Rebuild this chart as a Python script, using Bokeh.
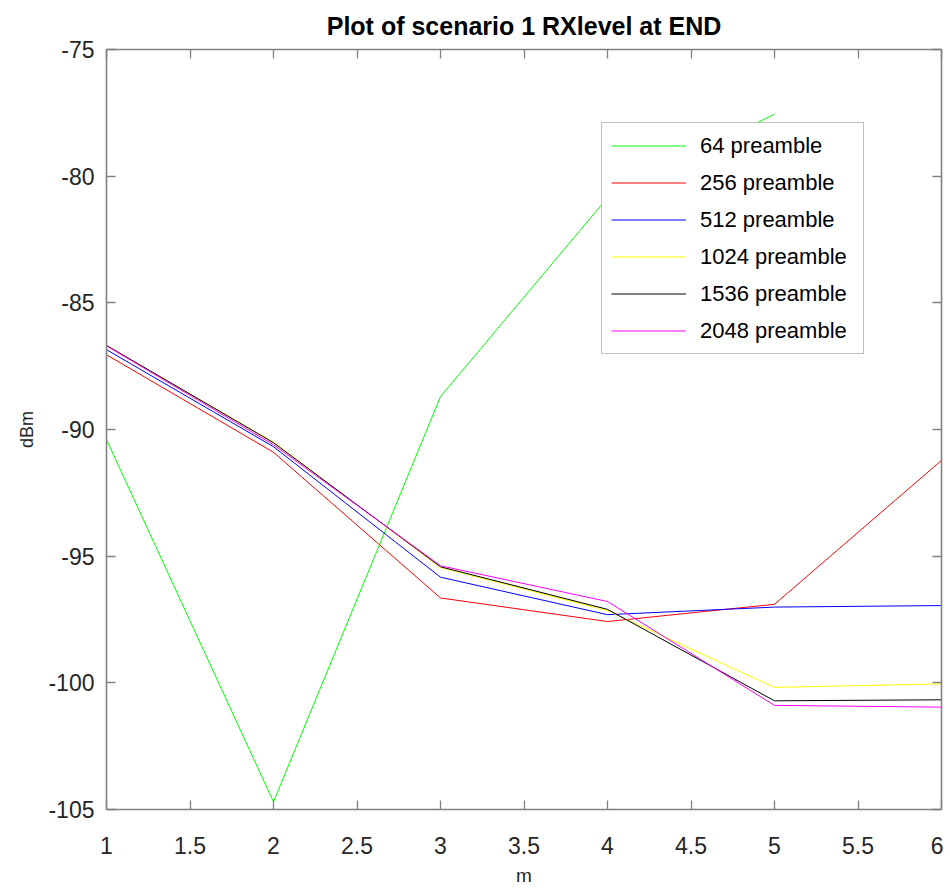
from bokeh.plotting import figure
from bokeh.models import Range1d, FixedTicker, LinearAxis, Legend, LegendItem
from bokeh.embed import file_html
from bokeh.resources import INLINE

x = [1, 2, 3, 4, 5, 6]
nan = float("nan")
y64 = [-90.4, -104.7, -88.7, -80.85, -77.55, nan]
y256 = [-87.05, -90.9, -96.65, -97.58, -96.9, -91.22]
y512 = [-86.85, -90.68, -95.83, -97.31, -97.01, -96.95]
y1024 = [-86.7, -90.5, -95.45, -97.15, -100.18, -100.04]
y1536 = [-86.68, -90.52, -95.42, -97.1, -100.71, -100.67]
y2048 = [-86.7, -90.6, -95.38, -96.79, -100.89, -100.96]

series = [
    ("64 preamble", y64, "#00ff00"),
    ("256 preamble", y256, "#ff0000"),
    ("512 preamble", y512, "#0000ff"),
    ("1024 preamble", y1024, "#ffff00"),
    ("1536 preamble", y1536, "#000000"),
    ("2048 preamble", y2048, "#ff00ff"),
]

x_ticks = [1, 1.5, 2, 2.5, 3, 3.5, 4, 4.5, 5, 5.5, 6]
y_ticks = [-105, -100, -95, -90, -85, -80, -75]

FONT = "Liberation Sans"
AXC = "#808080"
TXC = "#262626"

p = figure(
    frame_width=835, frame_height=760,
    min_border_left=106, min_border_right=2, min_border_top=48, min_border_bottom=81,
    x_range=Range1d(1, 6), y_range=Range1d(-105, -75),
    output_backend="svg", toolbar_location=None,
    title="Plot of scenario 1 RXlevel at END",
    x_axis_label="m", y_axis_label="dBm",
)
p.outline_line_color = None
p.xgrid.grid_line_color = None
p.ygrid.grid_line_color = None
p.background_fill_color = "white"
p.border_fill_color = "white"

p.title.align = "center"
p.title.text_font = FONT
p.title.text_font_size = "25px"
p.title.text_font_style = "bold"
p.title.text_color = "#000000"
p.title.standoff = 19

def style_axis(ax, show_labels):
    ax.axis_line_color = AXC
    ax.axis_line_width = 1.6
    ax.major_tick_line_color = AXC
    ax.major_tick_line_width = 1.3
    ax.major_tick_in = 9
    ax.major_tick_out = 0
    ax.minor_tick_line_color = None
    if not show_labels:
        ax.major_label_text_color = None
        ax.major_label_text_font_size = "1px"
        ax.major_label_standoff = 0
        ax.axis_label = None
    else:
        ax.major_label_text_font = FONT
        ax.major_label_text_font_size = "23px"
        ax.major_label_text_color = TXC
        ax.axis_label_text_font = FONT
        ax.axis_label_text_font_style = "normal"
        ax.axis_label_text_color = TXC

xa = p.xaxis[0]
ya = p.yaxis[0]
xa.ticker = FixedTicker(ticks=x_ticks)
ya.ticker = FixedTicker(ticks=y_ticks)
xa.major_label_overrides = {t: ("%g" % t) for t in x_ticks}
ya.major_label_overrides = {t: ("%g" % t) for t in y_ticks}
style_axis(xa, True)
style_axis(ya, True)
xa.major_label_standoff = 27
xa.axis_label_text_font_size = "19px"
xa.axis_label_standoff = 8
ya.major_label_standoff = 12
ya.axis_label_text_font_size = "18px"
ya.axis_label_standoff = 8

top = LinearAxis(ticker=FixedTicker(ticks=x_ticks))
right = LinearAxis(ticker=FixedTicker(ticks=y_ticks))
style_axis(top, False)
style_axis(right, False)
p.add_layout(top, "above")
p.add_layout(right, "right")

items = []
for name, ys, col in series:
    r = p.line(x, ys, line_color=col, line_width=1)
    items.append(LegendItem(label=name, renderers=[r]))

legend = Legend(
    items=items, location=(495, 455),
    label_text_font=FONT, label_text_font_size="22px", label_text_color="#000000",
    glyph_width=75, glyph_height=27, label_height=27, label_width=154,
    label_standoff=14, spacing=10, padding=9, margin=0,
    border_line_color="#808080", border_line_width=1.3,
    background_fill_color="white", background_fill_alpha=1.0,
)
p.add_layout(legend, "center")

open("out.html", "w").write(file_html(p, INLINE))
